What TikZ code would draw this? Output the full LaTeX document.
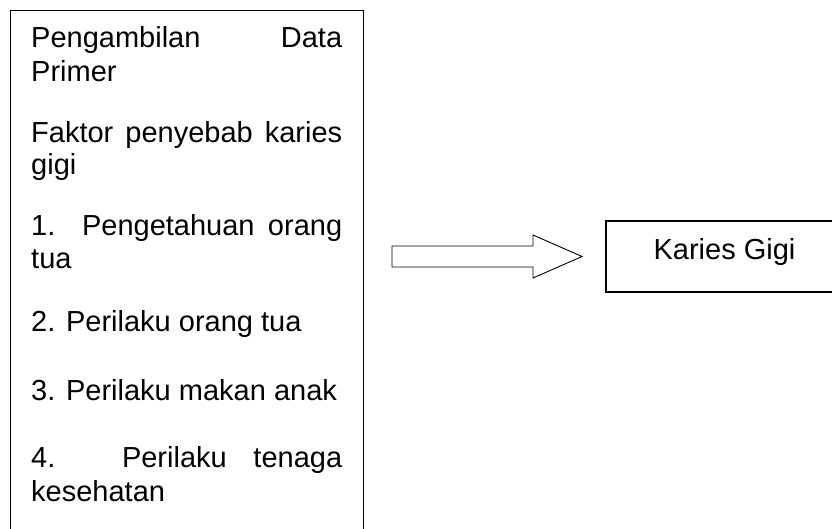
\documentclass[tikz,border=0pt]{standalone}
\usepackage{fontspec}
\setmainfont{Liberation Sans}
\begin{document}
\begin{tikzpicture}[x=1pt,y=-1pt,
  ln/.style={anchor=base west, inner sep=0pt, font=\fontsize{29}{33}\selectfont},
  boxline/.style={draw, line width=1.2pt},
  blockarrow/.style={draw, line width=0.9pt, line join=miter}]
\useasboundingbox (0,0) rectangle (832,529);
\clip (0,0) rectangle (832,529);
% left box (bottom edge lies below the picture)
\node[boxline, inner sep=0pt, minimum width=353.5pt, minimum height=600pt, anchor=north west] (left) at (9.5,10) {};
\node[ln] (l1) at (31,48) {\makebox[311pt][s]{Pengambilan Data}};
\node[ln] (l2) at (31,82) {Primer};
\node[ln] (l3) at (31,143) {\makebox[311pt][s]{Faktor penyebab karies}};
\node[ln] (l4) at (31,175) {gigi};
\node[ln] (l5) at (31,236) {\makebox[311pt][s]{1. Pengetahuan orang}};
\node[ln] (l6) at (31,269) {tua};
\node[ln] (l7) at (31,331) {2. Perilaku orang tua};
\node[ln] (l8) at (31,400) {3. Perilaku makan anak};
\node[ln] (l9) at (31,467) {\makebox[311pt][s]{4. Perilaku tenaga}};
\node[ln] (l10) at (31,501) {kesehatan};
% block arrow
\draw[blockarrow] (392,246) coordinate (atail) -- (533,246) -- (533,235) -- (582,256.5) coordinate (atip)
  -- (533,278) -- (533,267) -- (392,267) -- cycle;
% right box (right edge lies beyond the picture)
\node[boxline, inner sep=0pt, anchor=base, text height=39pt, text depth=32pt, minimum width=237pt,
  font=\fontsize{29}{33}\selectfont] (kg) at (724.5,260) {Karies Gigi};
\end{tikzpicture}
\end{document}
